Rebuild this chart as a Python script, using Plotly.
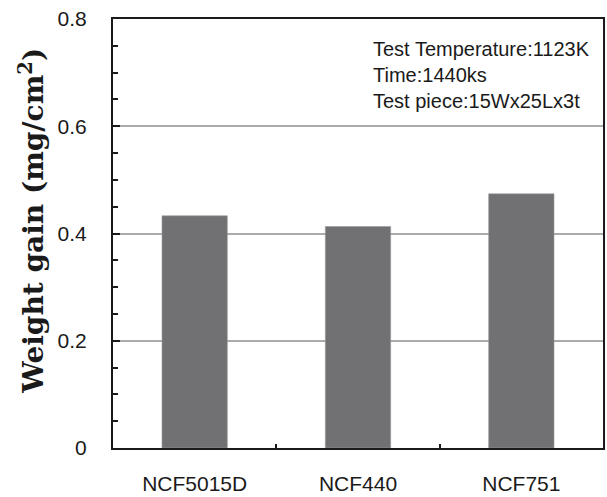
import plotly.graph_objects as go

categories = ["NCF5015D", "NCF440", "NCF751"]
weight_gain = [0.433, 0.413, 0.474]
y_ticks = [0, 0.2, 0.4, 0.6, 0.8]
y_tick_labels = ["0", "0.2", "0.4", "0.6", "0.8"]
note_lines = ["Test Temperature:1123K", "Time:1440ks", "Test piece:15Wx25Lx3t"]
y_title = "<b>Weight gain (mg/cm<sup>2</sup>)</b>"

fig = go.Figure()
fig.add_trace(go.Bar(
    x=categories, y=weight_gain,
    marker=dict(color="#717174", line=dict(color="#9a9a9c", width=0.6)),
    width=0.4,
))

fig.update_layout(
    width=607, height=497,
    margin=dict(l=113, r=2, t=19, b=49),
    paper_bgcolor="white", plot_bgcolor="white",
    showlegend=False,
    font=dict(family="Liberation Sans, Arial, sans-serif", color="#1a1a1a"),
)
fig.update_xaxes(
    type="category", tickson="boundaries",
    ticks="inside", ticklen=4, tickcolor="#1a1a1a", tickwidth=1.5,
    showline=True, linecolor="#1a1a1a", linewidth=2, mirror=True,
    showgrid=False,
    tickfont=dict(size=21, family="Liberation Sans, Arial, sans-serif"),
    ticklabelstandoff=16,
)
fig.update_yaxes(
    range=[0, 0.8], tickvals=y_ticks, ticktext=y_tick_labels,
    ticks="inside", ticklen=7, tickcolor="#1a1a1a", tickwidth=2,
    minor=dict(dtick=0.05, ticks="inside", ticklen=5, tickcolor="#1a1a1a", tickwidth=1.5, showgrid=False),
    showline=True, linecolor="#1a1a1a", linewidth=2, mirror=True,
    showgrid=True, gridcolor="#ababab", gridwidth=1.5,
    zeroline=False,
    tickfont=dict(size=21, family="Liberation Sans, Arial, sans-serif"),
    ticklabelstandoff=20,
)
fig.add_annotation(
    xref="paper", yref="paper", x=-0.165, y=0.53, xanchor="center", yanchor="middle",
    text=y_title, textangle=-90, showarrow=False,
    font=dict(size=28, family="DejaVu Serif, Liberation Serif, serif", color="#1a1a1a"),
)
fig.add_annotation(
    xref="paper", yref="paper", x=0.527, y=0.96, xanchor="left", yanchor="top",
    text="<br>".join(note_lines), showarrow=False, align="left",
    font=dict(size=20, family="Liberation Sans, Arial, sans-serif", color="#1a1a1a"),
)
fig.write_html("out.html")
